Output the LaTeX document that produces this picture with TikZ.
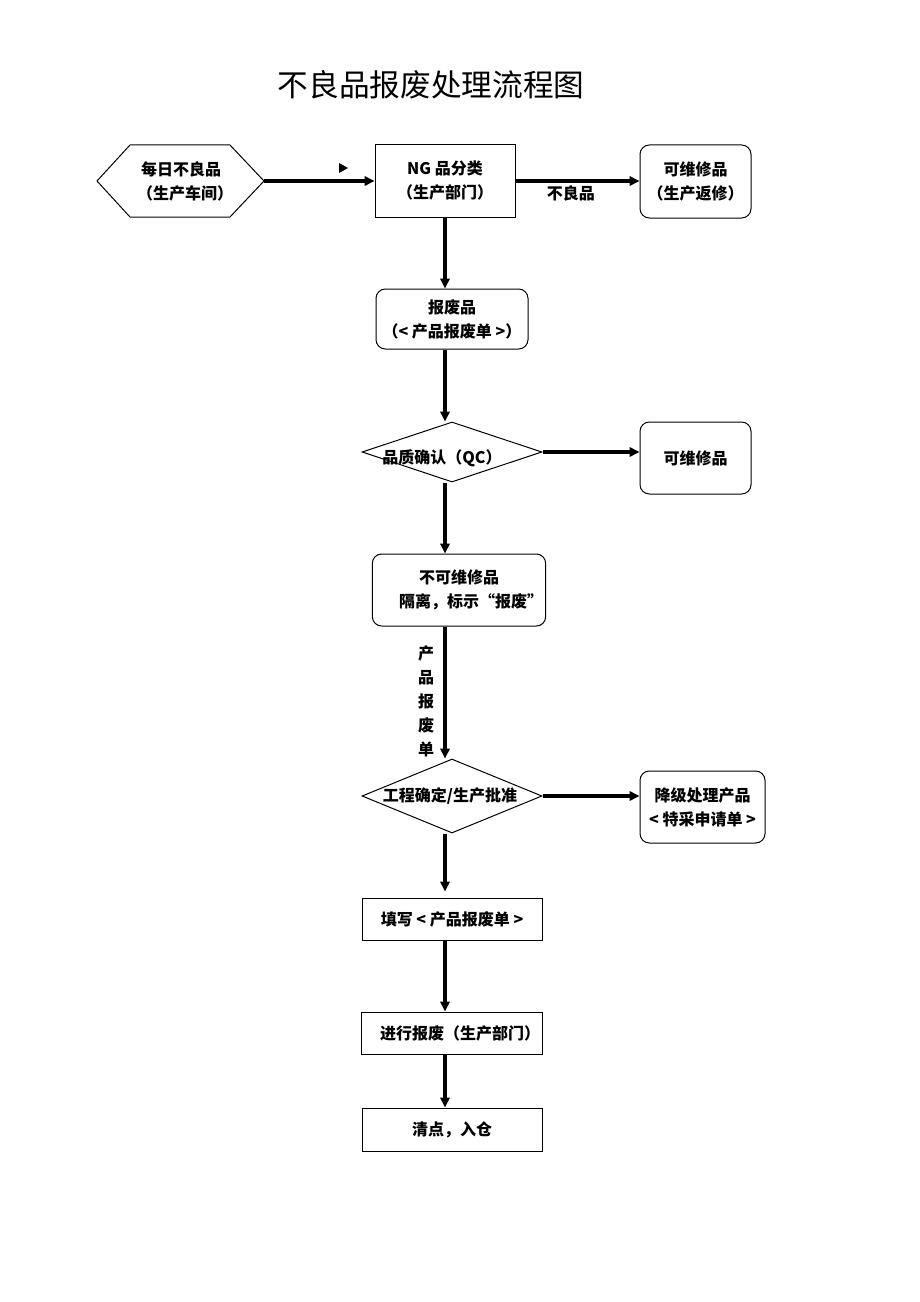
\documentclass[tikz,border=0pt]{standalone}
\usepackage{fontspec}
\setmainfont{Noto Sans CJK SC}
\usepackage{tikz}
\usetikzlibrary{positioning,calc,shapes.geometric}
\usetikzlibrary{arrows.meta}

\begin{document}
\begin{tikzpicture}[x=0.75pt,y=-0.75pt,
        every node/.style={font=\bfseries\fontsize{12pt}{18pt}\selectfont,align=center,inner sep=2pt},
        box/.style={rectangle,draw,line width=0.75pt},
        rbox/.style={rectangle,rounded corners=7pt,draw,line width=0.75pt},
        dia/.style={diamond,draw,line width=0.75pt,inner sep=0pt},
        flow/.style={draw,line width=2.4pt,-{Triangle[length=7.5pt,width=7pt]}}]
    \useasboundingbox (0,0) rectangle (920,1302);
    \node[font=\fontsize{23pt}{28pt}\selectfont] (title) at (431,85) {不良品报废处理流程图};
    % first row
    \node (hex) at (181,181) {每日不良品\\\hspace*{0.5em}（生产车间）};
    \draw[line width=0.75pt] ($(hex)+(-84,0)$) -- ($(hex)+(-51,-36)$) -- ($(hex)+(49,-36)$)
        -- ($(hex)+(83,0)$) coordinate (hexR) -- ($(hex)+(49,36)$) -- ($(hex)+(-51,36)$) -- cycle;
    \node[box,minimum width=105pt,minimum height=54pt] (ng) at (445,181) {NG 品分类\\（生产部门）};
    \node[rbox,minimum width=83.25pt,minimum height=54.75pt] (rep1) at (695.5,181.5) {可维修品\\（生产返修）};
    \fill (339,163) -- (348,168) -- (339,173) -- cycle;
    % main column
    \node[rbox,minimum width=114pt,minimum height=45pt] (bf) at (452,319) {报废品\\（< 产品报废单 >）};
    \node[dia,minimum width=135pt,minimum height=45pt,
        label={[xshift=-7.5pt,yshift=-4.5pt]center:品质确认（QC）}] (qc) at (452,452) {};
    \node[rbox,minimum width=83.25pt,minimum height=54pt] (rep2) at (695.5,458) {可维修品};
    \node[rbox,minimum width=124.5pt,minimum height=54pt] (nr) at (459,590) {不可维修品\\\hspace*{1.5em}隔离，标示“报废”};
    \node[dia,minimum width=135pt,minimum height=55.5pt,
        label={[xshift=-1.5pt]center:工程确定/生产批准}] (ap) at (452,796) {};
    \node[rbox,minimum width=93.75pt,minimum height=54pt] (dg) at (702.5,807) {降级处理产品\\< 特采申请单 >};
    \node[box,minimum width=135pt,minimum height=31.5pt] (wr) at (452,919) {填写 < 产品报废单 >};
    \node[box,minimum width=135pt,minimum height=31.5pt] (sc) at (452,1033) {\hspace*{1em}进行报废（生产部门）};
    \node[box,minimum width=135pt,minimum height=32.25pt] (ck) at (452,1129.5) {清点，入仓};
    \node[left=6pt of nr.south -| ng, anchor=north east, yshift=-12pt] (lbl) {产\\品\\报\\废\\单};
    % connectors
    \draw[flow] (hexR) -- (ng.west);
    \draw[flow] (ng.east) -- node[midway,below,xshift=-5pt] (bad) {不良品} (ng.east -| rep1.west);
    \draw[flow] (ng.south) -- (ng.south |- bf.north);
    \draw[flow] (bf.south -| ng) -- (qc.north -| ng);
    \draw[flow] (qc.east) -- (qc.east -| rep2.west);
    \draw[flow] (qc.south -| ng) -- (nr.north -| ng);
    \draw[flow] (nr.south -| ng) -- (ap.north -| ng);
    \draw[flow] (ap.east) -- (ap.east -| dg.west);
    \draw[flow,shorten >=4.5pt] (ap.south -| ng) -- (wr.north -| ng);
    \draw[flow] (wr.south -| ng) -- (sc.north -| ng);
    \draw[flow] (sc.south -| ng) -- (ck.north -| ng);
\end{tikzpicture}
\end{document}
